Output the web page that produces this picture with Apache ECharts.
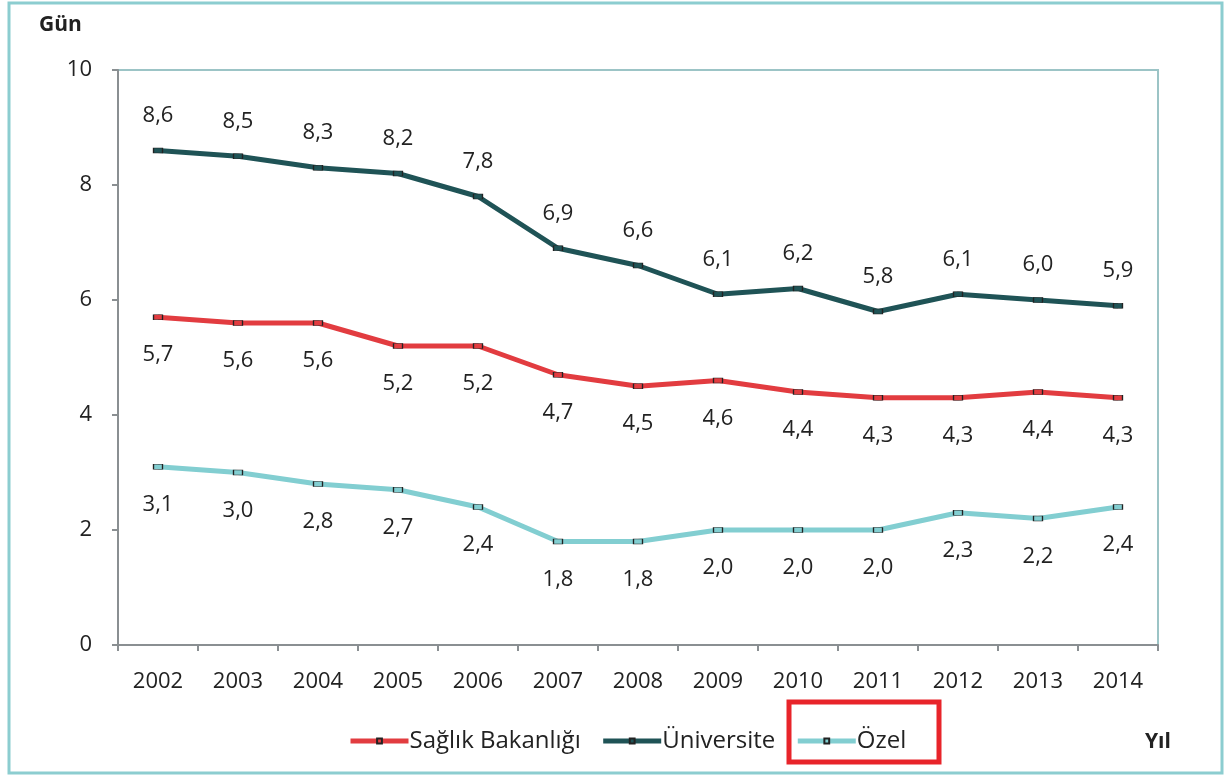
<!DOCTYPE html>
<html>
<head>
<meta charset="utf-8">
<script src="https://cdn.jsdelivr.net/npm/echarts@6/dist/echarts.min.js"></script>
<style>
  html, body { margin: 0; padding: 0; background: #fff; }
  #chart { width: 1231px; height: 779px; }
</style>
</head>
<body>
<div id="chart"></div>
<script>
// yıllar ve seriler
const years = ['2002', '2003', '2004', '2005', '2006', '2007', '2008', '2009', '2010', '2011', '2012', '2013', '2014']
const saglik = [5.7, 5.6, 5.6, 5.2, 5.2, 4.7, 4.5, 4.6, 4.4, 4.3, 4.3, 4.4, 4.3]
const universite = [8.6, 8.5, 8.3, 8.2, 7.8, 6.9, 6.6, 6.1, 6.2, 5.8, 6.1, 6.0, 5.9]
const ozel = [3.1, 3.0, 2.8, 2.7, 2.4, 1.8, 1.8, 2.0, 2.0, 2.0, 2.3, 2.2, 2.4]
const yTicks = [0, 2, 4, 6, 8, 10]

const FONT = '"Open Sans", "Noto Sans", sans-serif'
const fmt = p => p.value.toFixed(1).replace('.', ',')

function makeSeries(name, data, color, pos, dist) {
  return {
    name: name,
    type: 'line',
    data: data,
    symbol: 'rect',
    symbolSize: [9, 5],
    lineStyle: { color: color, width: 5 },
    itemStyle: { color: color, borderColor: '#222', borderWidth: 1 },
    label: {
      show: true,
      position: pos,
      distance: dist,
      formatter: fmt,
      fontFamily: FONT,
      fontSize: 22,
      color: '#222'
    },
    emphasis: { disabled: true },
    z: 3
  }
}

const chart = echarts.init(document.getElementById('chart'))
chart.setOption({
  animation: false,
  backgroundColor: '#fff',
  grid: {
    left: 118, right: 73, top: 70, bottom: 134,
    show: true,
    borderColor: '#9cc4c6',
    borderWidth: 2
  },
  legend: {
    left: 343,
    top: 724,
    itemWidth: 58,
    itemHeight: 6,
    itemGap: 20,
    lineStyle: { width: 5 },
    textStyle: { fontFamily: FONT, fontSize: 24, color: '#222', padding: [0, 0, 0, -4] },
    data: ['Sağlık Bakanlığı', 'Üniversite', 'Özel']
  },
  xAxis: {
    type: 'category',
    data: years,
    boundaryGap: true,
    axisLine: { lineStyle: { color: '#8a8f92', width: 2 } },
    axisTick: { show: true, length: 6, lineStyle: { color: '#8a8f92', width: 2 } },
    axisLabel: { margin: 26, fontFamily: FONT, fontSize: 22, color: '#222' }
  },
  yAxis: {
    type: 'value',
    min: yTicks[0],
    max: yTicks[yTicks.length - 1],
    interval: 2,
    splitLine: { show: false },
    axisLine: { show: true, lineStyle: { color: '#8a8f92', width: 2 } },
    axisTick: { show: true, length: 6, lineStyle: { color: '#8a8f92', width: 2 } },
    axisLabel: { margin: 26, fontFamily: FONT, fontSize: 22, color: '#222' }
  },
  series: [
    makeSeries('Sağlık Bakanlığı', saglik, '#e23c40', 'bottom', 24),
    makeSeries('Üniversite', universite, '#1f5356', 'top', 21),
    makeSeries('Özel', ozel, '#82ced1', 'bottom', 24)
  ],
  graphic: [
    {
      type: 'rect',
      shape: { x: 9, y: 3, width: 1213, height: 770 },
      style: { fill: 'none', stroke: '#8ccdd0', lineWidth: 3 },
      silent: true
    },
    {
      type: 'rect',
      shape: { x: 789, y: 702, width: 150, height: 60 },
      style: { fill: 'none', stroke: '#e8242a', lineWidth: 5 },
      silent: true
    },
    {
      type: 'text',
      left: 39, top: 15,
      style: { text: 'Gün', font: 'bold 21px ' + FONT, fill: '#222' }
    },
    {
      type: 'text',
      left: 1145, top: 732,
      style: { text: 'Yıl', font: 'bold 21px ' + FONT, fill: '#222' }
    }
  ]
})
</script>
</body>
</html>
